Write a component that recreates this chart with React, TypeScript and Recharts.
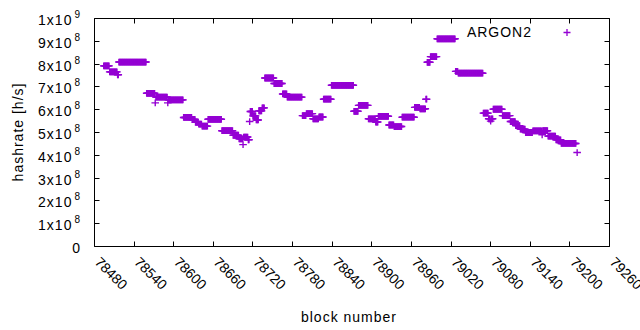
import React from 'react'
import { ScatterChart, Scatter, XAxis, YAxis, Legend, ReferenceArea } from 'recharts'

const runFrom = [
  78494, 78503, 78515, 78517, 78559, 78572, 78573, 78591, 78592, 78615,
  78628, 78633, 78638, 78643, 78652, 78673, 78690, 78699, 78705, 78706,
  78713, 78715, 78716, 78720, 78725, 78729, 78734, 78738, 78752, 78765,
  78772, 78795, 78801, 78811, 78820, 78827, 78839, 78873, 78880, 78895,
  78906, 78910, 78926, 78934, 78946, 78965, 78973, 78982, 78984, 78989,
  78999, 79027, 79031, 79069, 79077, 79080, 79081, 79084, 79098, 79110,
  79118, 79125, 79133, 79144, 79158, 79159, 79167, 79179, 79187, 79211,
]
const runTo = [
  78502, 78514, 78516, 78558, 78571, 78572, 78590, 78591, 78614, 78627,
  78632, 78637, 78642, 78651, 78672, 78689, 78698, 78704, 78705, 78712,
  78714, 78715, 78719, 78724, 78728, 78733, 78737, 78751, 78764, 78771,
  78794, 78800, 78810, 78819, 78826, 78838, 78872, 78879, 78894, 78905,
  78909, 78925, 78933, 78945, 78964, 78972, 78981, 78983, 78988, 78998,
  79026, 79030, 79068, 79076, 79079, 79080, 79083, 79097, 79109, 79117,
  79124, 79132, 79143, 79157, 79158, 79166, 79178, 79186, 79209, 79211,
]
const runRate = [
  7.92, 7.66, 7.53, 8.09, 6.72, 6.3, 6.55, 6.3, 6.43, 5.66,
  5.57, 5.45, 5.37, 5.28, 5.58, 5.08, 4.88, 4.72, 4.47, 4.8,
  4.68, 5.48, 5.92, 5.73, 5.55, 5.95, 6.08, 7.39, 7.15, 6.69,
  6.55, 5.74, 5.83, 5.6, 5.68, 6.46, 7.07, 5.93, 6.19, 5.6,
  5.46, 5.71, 5.33, 5.26, 5.67, 6.1, 6.04, 6.46, 8.08, 8.33,
  9.11, 7.68, 7.6, 5.85, 5.6, 5.5, 5.6, 6.02, 5.74, 5.48,
  5.3, 5.15, 5.0, 5.07, 4.9, 5.08, 4.84, 4.68, 4.52, 4.12,
]

const blockTicks = [
  78480, 78540, 78600, 78660, 78720, 78780, 78840,
  78900, 78960, 79020, 79080, 79140, 79200, 79260,
]
const rateTicks = [0, 1, 2, 3, 4, 5, 6, 7, 8, 9, 10].map((n) => n * 1e8)

const points: { block: number; hashrate: number }[] = []
runFrom.forEach((from, i) => {
  for (let b = from; b <= runTo[i]; b++) {
    points.push({ block: b, hashrate: runRate[i] * 1e8 })
  }
})

const FONT = '"Liberation Sans", Arial, sans-serif'
const PURPLE = '#9400d3'
const INK = '#000'
const TOP = 18.5
const BOTTOM = 246.5
const LEFT = 94.5
const RIGHT = 609.5

// snap a tick position to a pixel centre so the 1px tick stays sharp
const px = (v: number) => Math.floor(v) + 0.5

const Plus = (props: any) => {
  const { cx, cy } = props
  return (
    <path
      d={`M${cx - 3.8},${cy}h7.6M${cx},${cy - 3.4}v6.8`}
      stroke={PURPLE}
      strokeWidth={1.4}
      fill="none"
    />
  )
}

// bottom axis: inward tick plus a 45 degree label; the mirrored top tick is drawn here too
const BottomTick = (props: any) => {
  const { x, payload } = props
  const ty = 263
  return (
    <g>
      <path
        d={`M${px(x)},${BOTTOM}v-5M${px(x)},${TOP}v5`}
        stroke={INK}
        strokeWidth={1}
        fill="none"
      />
      <text
        x={x - 0.5}
        y={ty}
        transform={`rotate(45 ${x - 0.5} ${ty})`}
        fontSize={14}
        fontFamily={FONT}
        fill="#000"
      >
        {payload.value}
      </text>
    </g>
  )
}

// left axis: inward tick, mirrored right tick and the Nx10^e label
const LeftTick = (props: any) => {
  const { y, payload } = props
  const v = payload.value
  let label: React.ReactNode = '0'
  if (v > 0) {
    const exp = v >= 1e9 ? 9 : 8
    const mant = Math.round(v / Math.pow(10, exp))
    label = (
      <>
        {mant}x10
        <tspan dx={2} dy={-7} fontSize={10}>
          {exp}
        </tspan>
      </>
    )
  }
  return (
    <g>
      <path
        d={`M${LEFT},${px(y)}h5M${RIGHT},${px(y)}h-5`}
        stroke={INK}
        strokeWidth={1}
        fill="none"
      />
      <text
        x={81}
        y={y + 6.5}
        textAnchor="end"
        fontSize={14}
        letterSpacing={1}
        fontFamily={FONT}
        fill="#000"
      >
        {label}
      </text>
    </g>
  )
}

const XTitle = () => (
  <text
    x={349}
    y={321.5}
    textAnchor="middle"
    fontSize={14}
    letterSpacing={1}
    fontFamily={FONT}
    fill="#000"
  >
    block number
  </text>
)

const YTitle = () => (
  <text
    x={23}
    y={132}
    transform="rotate(-90 23 132)"
    textAnchor="middle"
    fontSize={14}
    letterSpacing={1}
    fontFamily={FONT}
    fill="#000"
  >
    hashrate [h/s]
  </text>
)

const LegendBox = () => (
  <svg width={200} height={26} style={{ display: 'block' }}>
    <text
      x={132}
      y={16.7}
      textAnchor="end"
      fontSize={14}
      letterSpacing={1}
      fontFamily={FONT}
      fill="#000"
    >
      ARGON2
    </text>
    <path d="M163.5,12.5h7M167,9v7" stroke={PURPLE} strokeWidth={1.3} />
  </svg>
)

export default function App() {
  return (
    <div style={{ position: 'absolute', left: 0, top: 0, background: '#fff' }}>
      <ScatterChart
        width={640}
        height={330}
        margin={{ top: TOP, right: 640 - RIGHT, bottom: 0, left: 0 }}
      >
        <XAxis
          dataKey="block"
          type="number"
          domain={[78480, 79260]}
          ticks={blockTicks}
          interval={0}
          allowDataOverflow
          height={330 - BOTTOM}
          tickLine={false}
          tickSize={0}
          axisLine={false}
          tick={<BottomTick />}
          label={<XTitle />}
        />
        <YAxis
          dataKey="hashrate"
          type="number"
          domain={[0, 1e9]}
          ticks={rateTicks}
          interval={0}
          allowDataOverflow
          width={LEFT}
          tickLine={false}
          tickSize={0}
          axisLine={false}
          tick={<LeftTick />}
          label={<YTitle />}
        />
        {/* plot border */}
        <ReferenceArea
          x1={78480}
          x2={79260}
          y1={0}
          y2={1e9}
          fill="none"
          fillOpacity={0}
          stroke={INK}
          strokeWidth={1}
          ifOverflow="visible"
        />
        <Legend
          layout="horizontal"
          verticalAlign="middle"
          align="center"
          content={() => <LegendBox />}
          wrapperStyle={{ position: 'absolute', left: 400, top: 20, width: 200, height: 26 }}
        />
        <Scatter
          name="ARGON2"
          data={points}
          fill={PURPLE}
          shape={Plus}
          isAnimationActive={false}
        />
      </ScatterChart>
    </div>
  )
}
